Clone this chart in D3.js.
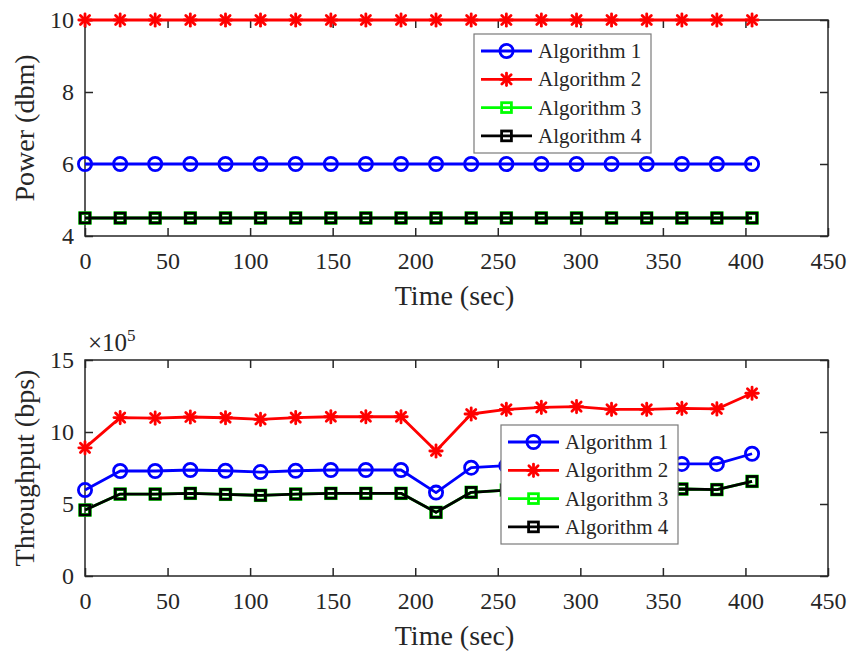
<!DOCTYPE html>
<html>
<head>
<meta charset="utf-8">
<script src="https://cdn.jsdelivr.net/npm/d3@7/dist/d3.min.js"></script>
<style>
  html, body { margin: 0; padding: 0; background: #fff; }
  svg { display: block; }
  text { font-family: "Liberation Serif", "DejaVu Serif", "Noto Serif", "Times New Roman", serif; fill: #262626; }
</style>
</head>
<body>
<svg id="chart" width="852" height="657"></svg>
<script>
// Sample instants (seconds)
const timeSec = [0, 21.3, 42.5, 63.8, 85.1, 106.3, 127.6, 148.9, 170.1, 191.4,
                 212.6, 233.9, 255.2, 276.4, 297.7, 318.9, 340.2, 361.5, 382.7, 404];

const seriesNames = ["Algorithm 1", "Algorithm 2", "Algorithm 3", "Algorithm 4"];

// Transmit power (dbm)
const powerAlg1 = [6, 6, 6, 6, 6, 6, 6, 6, 6, 6, 6, 6, 6, 6, 6, 6, 6, 6, 6, 6];
const powerAlg2 = [10, 10, 10, 10, 10, 10, 10, 10, 10, 10, 10, 10, 10, 10, 10, 10, 10, 10, 10, 10];
const powerAlg3 = [4.5, 4.5, 4.5, 4.5, 4.5, 4.5, 4.5, 4.5, 4.5, 4.5, 4.5, 4.5, 4.5, 4.5, 4.5, 4.5, 4.5, 4.5, 4.5, 4.5];
const powerAlg4 = [4.5, 4.5, 4.5, 4.5, 4.5, 4.5, 4.5, 4.5, 4.5, 4.5, 4.5, 4.5, 4.5, 4.5, 4.5, 4.5, 4.5, 4.5, 4.5, 4.5];

// Throughput (x10^5 bps)
const thrAlg1 = [5.97, 7.29, 7.29, 7.36, 7.31, 7.22, 7.31, 7.36, 7.36, 7.36,
                 5.79, 7.52, 7.66, 7.72, 7.75, 7.70, 7.72, 7.78, 7.78, 8.49];
const thrAlg2 = [8.90, 11.00, 10.97, 11.04, 10.99, 10.88, 11.00, 11.06, 11.06, 11.06,
                 8.68, 11.25, 11.57, 11.71, 11.76, 11.57, 11.57, 11.64, 11.60, 12.69];
const thrAlg3 = [4.58, 5.69, 5.69, 5.74, 5.67, 5.60, 5.69, 5.74, 5.74, 5.74,
                 4.42, 5.81, 5.97, 6.00, 6.02, 6.00, 6.00, 6.04, 6.00, 6.57];
const thrAlg4 = [4.58, 5.69, 5.69, 5.74, 5.67, 5.60, 5.69, 5.74, 5.74, 5.74,
                 4.42, 5.81, 5.97, 6.00, 6.02, 6.00, 6.00, 6.04, 6.00, 6.57];

// Axis ticks
const xTicks = [0, 50, 100, 150, 200, 250, 300, 350, 400, 450];
const powerTicks = [4, 6, 8, 10];
const thrTicks = [0, 5, 10, 15];

// Series styling
const styles = [
  { color: "#0000ff", marker: "circle" },
  { color: "#ff0000", marker: "asterisk" },
  { color: "#00ff00", marker: "square", markerWidth: 3.6 },
  { color: "#000000", marker: "square" }
];

const SERIF = '"Liberation Serif", "DejaVu Serif", "Noto Serif", "Times New Roman", serif';
const svg = d3.select("#chart");
const axisColor = "#262626";

function drawMarker(g, type, color, sw) {
  if (type === "circle") {
    g.append("circle").attr("r", 6.6).attr("fill", "none")
      .attr("stroke", color).attr("stroke-width", sw);
  } else if (type === "square") {
    g.append("rect").attr("x", -4.9).attr("y", -4.9).attr("width", 9.8).attr("height", 9.8)
      .attr("fill", "none").attr("stroke", color).attr("stroke-width", sw);
  } else if (type === "asterisk") {
    const r = 6.2, d = 4.6;
    const segs = [[-r, 0, r, 0], [0, -r, 0, r], [-d, -d, d, d], [-d, d, d, -d]];
    segs.forEach(s => g.append("line")
      .attr("x1", s[0]).attr("y1", s[1]).attr("x2", s[2]).attr("y2", s[3])
      .attr("stroke", color).attr("stroke-width", 2.8).attr("stroke-linecap", "round"));
  }
}

function drawPanel(cfg) {
  const { left, top, width, height } = cfg.area;
  const g = svg.append("g").attr("transform", `translate(${left},${top})`);
  const x = d3.scaleLinear().domain([0, 450]).range([0, width]);
  const y = d3.scaleLinear().domain(cfg.yDomain).range([height, 0]);

  // Box outline
  g.append("rect").attr("width", width).attr("height", height)
    .attr("fill", "none").attr("stroke", axisColor).attr("stroke-width", 1.5);

  const styleAxis = sel => {
    sel.attr("font-family", null).attr("font-size", null);
    sel.select(".domain").remove();
    sel.selectAll(".tick line").attr("stroke", axisColor).attr("stroke-width", 1.5);
    sel.selectAll(".tick text").attr("fill", axisColor)
      .style("font-family", SERIF).style("font-size", "24px");
  };

  g.append("g").attr("transform", `translate(0,${height})`)
    .call(d3.axisBottom(x).tickValues(xTicks).tickFormat(d3.format("d")).tickSize(-8).tickPadding(16))
    .call(styleAxis);
  g.append("g")
    .call(d3.axisTop(x).tickValues(xTicks).tickFormat("").tickSize(-8))
    .call(styleAxis);
  g.append("g")
    .call(d3.axisLeft(y).tickValues(cfg.yTicks).tickFormat(d3.format("d")).tickSize(-8).tickPadding(11))
    .call(styleAxis);
  g.append("g").attr("transform", `translate(${width},0)`)
    .call(d3.axisRight(y).tickValues(cfg.yTicks).tickFormat("").tickSize(-8))
    .call(styleAxis);

  // Axis titles
  g.append("text").attr("x", width / 2 - 2).attr("y", height + 69)
    .attr("text-anchor", "middle").style("font-family", SERIF).style("font-size", "28px").text("Time (sec)");
  g.append("text")
    .attr("transform", `translate(${34 - left},${height / 2}) rotate(-90)`)
    .attr("text-anchor", "middle").style("font-family", SERIF).style("font-size", "28px").text(cfg.yLabel);

  if (cfg.exponent) {
    const t = g.append("text").attr("x", 3).attr("y", -9)
      .style("font-family", SERIF).style("font-size", "25px");
    t.append("tspan").text("×10");
    t.append("tspan").attr("dy", -10).style("font-size", "17px").text(cfg.exponent);
  }

  // Series
  const line = d3.line().x(d => x(d[0])).y(d => y(d[1]));
  cfg.series.forEach((vals, i) => {
    const st = styles[i];
    const pts = timeSec.map((t, k) => [t, vals[k]]);
    g.append("path").datum(pts).attr("d", line)
      .attr("fill", "none").attr("stroke", st.color).attr("stroke-width", 2.8)
      .attr("stroke-linejoin", "round");
    pts.forEach(p => {
      const m = g.append("g").attr("transform", `translate(${x(p[0])},${y(p[1])})`);
      drawMarker(m, st.marker, st.color, st.markerWidth || 2.8);
    });
  });

  // Legend
  const lg = g.append("g").attr("transform", `translate(${cfg.legend[0]},${cfg.legend[1]})`);
  lg.append("rect").attr("width", 177).attr("height", 119)
    .attr("fill", "#fff").attr("stroke", "#7a7a7a").attr("stroke-width", 1.2);
  seriesNames.forEach((name, i) => {
    const st = styles[i];
    const cy = 17 + i * 28.3;
    lg.append("line").attr("x1", 7).attr("x2", 58).attr("y1", cy).attr("y2", cy)
      .attr("stroke", st.color).attr("stroke-width", 2.8);
    const m = lg.append("g").attr("transform", `translate(32.5,${cy})`);
    drawMarker(m, st.marker, st.color, 2.8);
    lg.append("text").attr("x", 64).attr("y", cy).attr("dy", "0.33em")
      .style("font-family", SERIF).style("font-size", "21px").text(name);
  });
}

drawPanel({
  area: { left: 85, top: 20, width: 743, height: 216 },
  yDomain: [4, 10], yTicks: powerTicks, yLabel: "Power (dbm)",
  series: [powerAlg1, powerAlg2, powerAlg3, powerAlg4],
  legend: [389, 14]
});

drawPanel({
  area: { left: 85, top: 360, width: 743, height: 216 },
  yDomain: [0, 15], yTicks: thrTicks, yLabel: "Throughput (bps)",
  exponent: "5",
  series: [thrAlg1, thrAlg2, thrAlg3, thrAlg4],
  legend: [416, 65]
});
</script>
</body>
</html>
